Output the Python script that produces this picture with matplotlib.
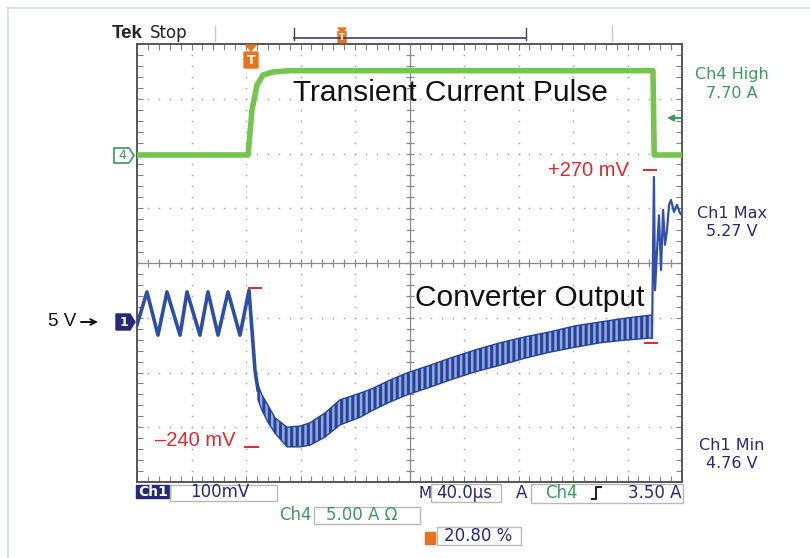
import numpy as np
import matplotlib
matplotlib.use('Agg')
from matplotlib import pyplot as plt
from matplotlib.patches import Polygon, Rectangle, FancyBboxPatch

# time in us (40 us/div), ch1 in V (100 mV/div), ch4 in A (5 A/div)
ch1_t = [0, 7.3, 15.4, 22.0, 31.6, 36.7, 46.2, 52.1, 59.5, 66.8, 75.6, 82.2, 84.4, 86.6, 88.8]
ch1_v = [4.995, 5.055, 4.976, 5.055, 4.976, 5.055, 4.976, 5.055, 4.976, 5.055, 4.976, 5.058, 4.985, 4.912, 4.876]

# ripple band after the load step (upper / lower envelope)
ripple_t = [88.8, 91.7, 96.1, 101.3, 110.1, 119.6, 127.0, 138.0, 149.0, 163.7, 173.2, 185.7,
            198.2, 215.0, 229.7, 248.1, 266.4, 284.8, 303.1, 321.5, 339.8, 358.2, 378.0]
ripple_hi = [4.885, 4.867, 4.848, 4.825, 4.808, 4.810, 4.816, 4.834, 4.858, 4.870, 4.879, 4.894,
             4.907, 4.921, 4.934, 4.949, 4.962, 4.973, 4.982, 4.993, 5.000, 5.007, 5.013]
ripple_lo = [4.858, 4.839, 4.817, 4.797, 4.772, 4.772, 4.775, 4.790, 4.812, 4.826, 4.839, 4.854,
             4.867, 4.881, 4.894, 4.909, 4.921, 4.934, 4.945, 4.954, 4.962, 4.967, 4.971]

# overshoot when the load is released
spike_t = [378.0, 379.4, 380.2, 381.7, 383.1, 384.6, 386.1, 387.5, 389.0, 390.5, 391.9, 394.1, 396.3, 398.5, 400.0]
spike_v = [4.971, 5.265, 5.058, 5.132, 5.195, 5.095, 5.205, 5.141, 5.168, 5.214, 5.223, 5.201, 5.214, 5.199, 5.195]

ch4_t = [0, 81.5, 84.4, 88.1, 92.5, 99.8, 112.3, 378.7, 379.6, 400]
ch4_a = [0, 0, 4.11, 6.39, 7.31, 7.58, 7.70, 7.70, 0, 0]

ch1_off = -1.078   # 5 V marker position (div)
ch4_off = 1.973    # ch4 ground marker (div)

def dt(t):
    return np.array(t) / 40.0

def d1(v):
    return (np.array(v) - 5.0) / 0.1 + ch1_off

def d4(a):
    return np.array(a) / 5.0 + ch4_off

plt.rcParams['hatch.linewidth'] = 2.2
fig = plt.figure(figsize=(8.1, 5.58), dpi=100)
ax = fig.add_axes([137/810, 1-482/558, 545/810, 438/558])
ax.set_xlim(0, 10)
ax.set_ylim(-4, 4)

grid_c = '#a8a8a8'
xminor = np.arange(0, 10.001, 0.2)
yminor = np.arange(-4, 4.001, 0.2)
for xi in range(1, 10):
    if xi == 5:
        continue
    ax.plot([xi]*len(yminor), yminor, ls='', marker='o', ms=1.2, mew=0, color=grid_c)
for yi in range(-3, 4):
    if yi == 0:
        continue
    ax.plot(xminor, [yi]*len(xminor), ls='', marker='o', ms=1.2, mew=0, color=grid_c)
ax.axvline(5, color='#8a8a8a', lw=0.9)
ax.axhline(0, color='#8a8a8a', lw=0.9)
ax.plot(xminor, np.zeros(len(xminor)), ls='', marker='|', ms=6, mew=0.9, color='#8a8a8a')
ax.plot(np.full(len(yminor), 5.0), yminor, ls='', marker='_', ms=6, mew=0.9, color='#8a8a8a')

ax.set_xticks(xminor)
ax.set_yticks(yminor)
ax.tick_params(direction='in', length=4, width=0.8, color='#808080', top=True, right=True,
               labelbottom=False, labelleft=False)
for s in ax.spines.values():
    s.set_color('#555555')
    s.set_linewidth(1.4)

# traces
ax.plot(dt(ch4_t), d4(ch4_a), color='#74c44e', lw=4, solid_joinstyle='round', zorder=3)
ax.plot(dt(ch1_t), d1(ch1_v), color='#2d4ea6', lw=2.6, zorder=4)
ax.fill_between(dt(ripple_t), d1(ripple_lo), d1(ripple_hi), facecolor='#95a8da',
                edgecolor='#26439c', hatch='|||', lw=1.0, zorder=4)
ax.plot(dt(spike_t), d1(spike_v), color='#3050b0', lw=1.6, zorder=4)

# overlay in pixel coordinates
ov = fig.add_axes([0, 0, 1, 1])
ov.set_xlim(0, 810)
ov.set_ylim(558, 0)
ov.axis('off')
ov.patch.set_alpha(0)

frame_c = '#d3dbe4'
ov.plot([8, 810], [8, 8], color=frame_c, lw=1.2)
ov.plot([8, 8], [8, 558], color=frame_c, lw=1.2)

navy = '#26287a'
green = '#3a9a5c'
red = '#e3262b'
orange = '#e8731e'

ov.text(112, 33, 'Tek', fontsize=13.5, fontweight='bold', color='#222222', va='center',
        family='Liberation Sans')
ov.text(150, 33, 'Stop', fontsize=12, color='#222222', va='center', family='DejaVu Sans')
ov.plot([215, 215], [26, 41], color='#c8c8c8', lw=1)
ov.plot([612, 612], [26, 41], color='#c8c8c8', lw=1)
ov.plot([294, 526], [38, 38], color='#3d4070', lw=1.2)
ov.plot([294, 294], [28, 40], color='#3d4070', lw=1)
ov.plot([526, 526], [28, 40], color='#3d4070', lw=1)
ov.add_patch(Polygon([[338, 28], [346, 28], [342, 32]], closed=True, color=orange))
ov.add_patch(FancyBboxPatch((338.5, 32), 7, 10, boxstyle='round,pad=0.5', color=orange))
ov.text(342, 37.5, 'T', fontsize=6, color='white', ha='center', va='center', fontweight='bold')

# trigger marker
ov.add_patch(Polygon([[246, 45], [256, 45], [251, 51]], closed=True, color=orange))
ov.add_patch(FancyBboxPatch((245, 53), 12, 14, boxstyle='round,pad=1', color=orange))
ov.text(251, 60.5, 'T', fontsize=9, color='white', ha='center', va='center', fontweight='bold')

# channel markers
ov.add_patch(Polygon([[114, 148], [129, 148], [134, 155.5], [129, 163], [114, 163]],
                     closed=True, facecolor='white', edgecolor=green, lw=1.2))
ov.text(122, 155.5, '4', fontsize=9, color=green, ha='center', va='center')
ov.add_patch(Polygon([[116, 314], [130, 314], [135, 322], [130, 330], [116, 330]],
                     closed=True, color=navy))
ov.text(124, 322, '1', fontsize=9, color='white', ha='center', va='center', fontweight='bold')
ov.text(48, 322, '5 V', fontsize=13.5, color='#111111', va='center', family='Liberation Sans')
ov.annotate('', xy=(98, 322), xytext=(81, 322),
            arrowprops=dict(arrowstyle='->', color='#111111', lw=1.4, mutation_scale=10,
                            shrinkA=0, shrinkB=0))

# labels on the traces
ov.text(293, 93, 'Transient Current Pulse', fontsize=21.5, color='#111111', va='center',
        family='Liberation Sans')
ov.text(415, 298, 'Converter Output', fontsize=21.5, color='#111111', va='center',
        family='Liberation Sans')
ov.text(548, 170, '+270 mV', fontsize=14.5, color=red, va='center', family='Liberation Sans')
ov.plot([644, 656], [170, 170], color=red, lw=1.4)
ov.text(155, 441, '\u2013240 mV', fontsize=14.5, color=red, va='center', family='Liberation Sans')
ov.plot([245, 258], [447, 447], color=red, lw=1.4)
ov.plot([249, 261], [288, 288], color=red, lw=1.4)
ov.plot([645, 657], [343, 343], color=red, lw=1.4)

# right hand readouts
ro = dict(fontsize=11.5, ha='center', va='center')
ov.text(732, 75, 'Ch4 High', color=green, **ro)
ov.text(732, 93, '7.70 A', color=green, **ro)
ov.annotate('', xy=(667, 118), xytext=(681, 118),
            arrowprops=dict(arrowstyle='-|>', color=green, lw=1.4, mutation_scale=9,
                            shrinkA=0, shrinkB=0))
ov.text(732, 213, 'Ch1 Max', color=navy, **ro)
ov.text(732, 231, '5.27 V', color=navy, **ro)
ov.text(732, 445, 'Ch1 Min', color=navy, **ro)
ov.text(732, 463, '4.76 V', color=navy, **ro)

# bottom status bar
box_c = '#b8b8b8'
bb = dict(fontsize=11, va='center')
nb = dict(fontsize=12, va='center')
ov.add_patch(Rectangle((136, 485), 34, 13, color=navy))
ov.text(153, 491.5, 'Ch1', fontsize=10, color='white', ha='center', va='center', fontweight='bold')
ov.add_patch(Rectangle((170, 485), 107, 16, fill=False, edgecolor=box_c, lw=1))
ov.text(190, 492, '100mV', color=navy, **nb)
ov.text(419, 493, 'M', color=navy, **bb)
ov.add_patch(Rectangle((431, 484), 70, 18, fill=False, edgecolor=box_c, lw=1))
ov.text(436, 493, '40.0\u03bcs', color=navy, **nb)
ov.text(516, 493, 'A', color=navy, **nb)
ov.add_patch(Rectangle((531, 484), 152, 19, fill=False, edgecolor=box_c, lw=1))
ov.text(545, 493, 'Ch4', color=green, **nb)
ov.plot([592, 596, 596, 601], [499, 499, 487, 487], color='#222222', lw=1.5)
ov.text(682, 493, '3.50 A', color=navy, ha='right', fontsize=12, va='center')

ov.text(279, 515, 'Ch4', color=green, **nb)
ov.add_patch(Rectangle((314, 507), 106, 17, fill=False, edgecolor=box_c, lw=1))
ov.text(326, 515.5, '5.00 A \u03a9', color=green, **nb)

ov.add_patch(Rectangle((425, 532), 10, 12, color=orange))
ov.add_patch(Rectangle((437, 527), 84, 18, fill=False, edgecolor=box_c, lw=1))
ov.text(444, 536, '20.80 %', color=navy, **nb)

fig.savefig('out.png', dpi=100)
